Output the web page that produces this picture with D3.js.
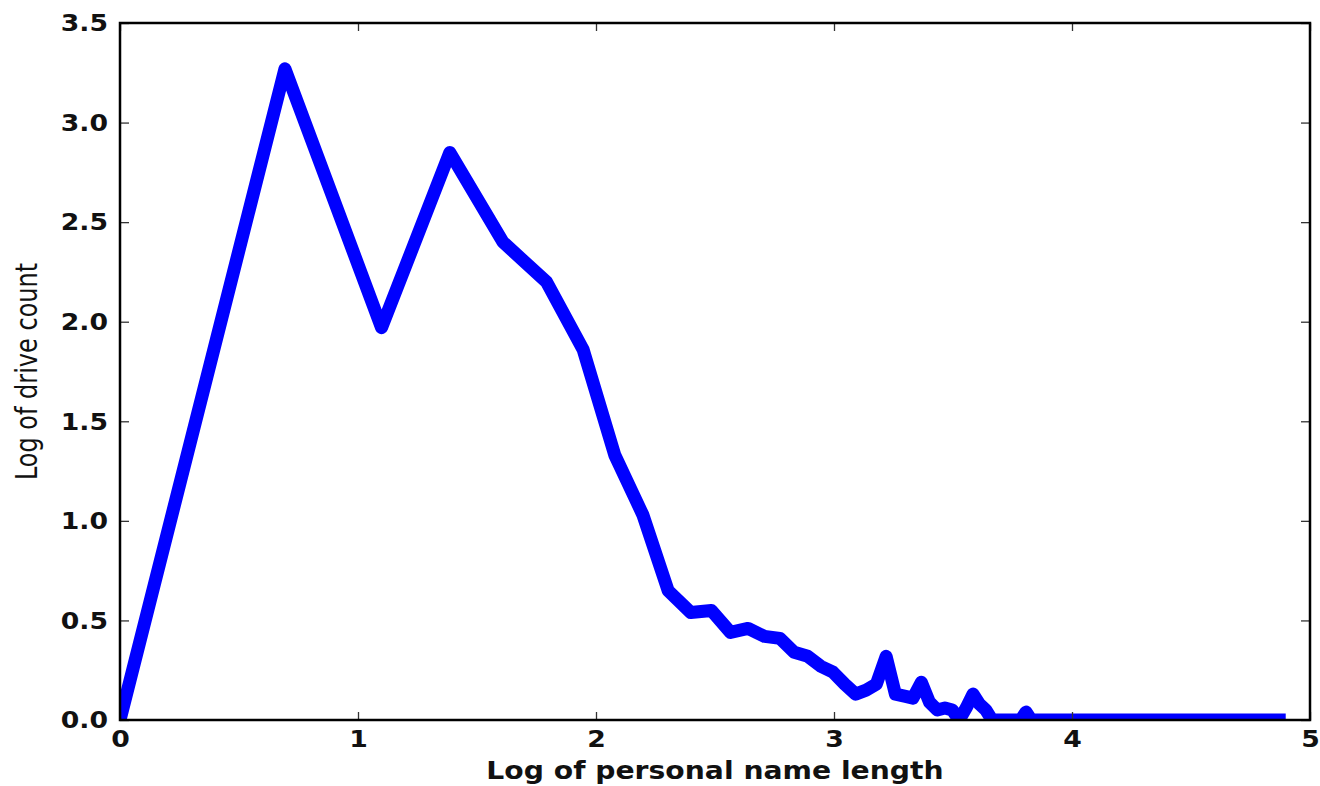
<!DOCTYPE html>
<html>
<head>
<meta charset="utf-8">
<script src="https://cdn.jsdelivr.net/npm/d3@7"></script>
<style>
  html, body { margin: 0; padding: 0; background: #fff; }
  svg { display: block; }
</style>
</head>
<body>
<div id="chart"></div>
<script>
var width = 1320;
var height = 786;

// log of name length (x) and log of drive count (y)
var logLength = [0, 0.693, 1.099, 1.386, 1.609, 1.792, 1.946, 2.079, 2.197, 2.303,
    2.398, 2.485, 2.565, 2.639, 2.708, 2.773, 2.833, 2.890, 2.944, 2.996,
    3.045, 3.091, 3.135, 3.178, 3.219, 3.258, 3.296, 3.332, 3.367, 3.401,
    3.434, 3.466, 3.497, 3.526, 3.555, 3.584, 3.611, 3.638, 3.664, 3.784,
    3.807, 3.829, 4.898];
var logCount = [0, 3.27, 1.97, 2.85, 2.40, 2.20, 1.86, 1.33, 1.03, 0.65,
    0.54, 0.55, 0.44, 0.46, 0.42, 0.41, 0.34, 0.32, 0.27, 0.24,
    0.18, 0.13, 0.15, 0.18, 0.32, 0.13, 0.12, 0.11, 0.19, 0.09,
    0.05, 0.06, 0.05, 0, 0.06, 0.13, 0.08, 0.05, 0, 0,
    0.04, 0, 0];

var xTicks = [0, 1, 2, 3, 4, 5];
var yTicks = [0, 0.5, 1.0, 1.5, 2.0, 2.5, 3.0, 3.5];

var margin = {top: 23, right: 10, bottom: 66, left: 120};
var plotW = width - margin.left - margin.right;
var plotH = height - margin.top - margin.bottom;
var stretch = 1.16;

var svg = d3.select("#chart").append("svg")
    .attr("width", width)
    .attr("height", height)
    .style("background", "#fff");

var g = svg.append("g")
    .attr("transform", "translate(" + margin.left + "," + margin.top + ")");

var x = d3.scaleLinear().domain([0, 5]).range([0, plotW]);
var y = d3.scaleLinear().domain([0, 3.5]).range([plotH, 0]);

g.append("clipPath").attr("id", "clip")
    .append("rect").attr("width", plotW).attr("height", plotH);

var data = logLength.map(function(d, i) { return {x: d, y: logCount[i]}; });

var line = d3.line()
    .x(function(d) { return x(d.x); })
    .y(function(d) { return y(d.y); });

g.append("path")
    .datum(data)
    .attr("clip-path", "url(#clip)")
    .attr("d", line)
    .attr("fill", "none")
    .attr("stroke", "#0000ff")
    .attr("stroke-width", 13)
    .attr("stroke-linejoin", "round")
    .attr("stroke-linecap", "butt");

// axes with inward ticks
var axLeft = g.append("g")
    .call(d3.axisLeft(y).tickValues(yTicks).tickSize(-9).tickPadding(12).tickFormat(d3.format(".1f")));
var axRight = g.append("g")
    .attr("transform", "translate(" + plotW + ",0)")
    .call(d3.axisRight(y).tickValues(yTicks).tickSize(-9).tickFormat(""));
var axBottom = g.append("g")
    .attr("transform", "translate(0," + plotH + ")")
    .call(d3.axisBottom(x).tickValues(xTicks).tickSize(-8).tickFormat(d3.format("d")));
var axTop = g.append("g")
    .call(d3.axisTop(x).tickValues(xTicks).tickSize(-8).tickFormat(""));

[axLeft, axRight, axBottom, axTop].forEach(function(a) {
    a.select(".domain").remove();
    a.selectAll(".tick line").attr("stroke", "#333").attr("stroke-width", 1.3);
});

axLeft.selectAll(".tick text")
    .attr("x", null).attr("dy", null)
    .attr("dominant-baseline", "central")
    .attr("transform", "translate(-12,0) scale(" + stretch + ",1)")
    .style("font-family", "'DejaVu Sans', sans-serif")
    .style("font-weight", "bold")
    .style("font-size", "23px")
    .attr("fill", "#111");

axBottom.selectAll(".tick text")
    .attr("y", null).attr("dy", null)
    .attr("transform", "translate(0,27) scale(" + stretch + ",1)")
    .style("font-family", "'DejaVu Sans', sans-serif")
    .style("font-weight", "bold")
    .style("font-size", "23px")
    .attr("fill", "#111");

// frame
g.append("rect")
    .attr("width", plotW)
    .attr("height", plotH)
    .attr("fill", "none")
    .attr("stroke", "#000")
    .attr("stroke-width", 2.5);

// axis titles
svg.append("text")
    .attr("transform", "translate(" + (margin.left + plotW / 2) + ",779) scale(1.13,1)")
    .attr("text-anchor", "middle")
    .style("font-family", "'DejaVu Sans', sans-serif")
    .style("font-weight", "bold")
    .style("font-size", "25px")
    .attr("fill", "#111")
    .text("Log of personal name length");

svg.append("text")
    .attr("transform", "translate(37," + (margin.top + plotH / 2) + ") scale(1.25,1) rotate(-90)")
    .attr("text-anchor", "middle")
    .style("font-family", "'DejaVu Sans', sans-serif")
    .style("font-size", "24px")
    .attr("fill", "#111")
    .text("Log of drive count");
</script>
</body>
</html>
